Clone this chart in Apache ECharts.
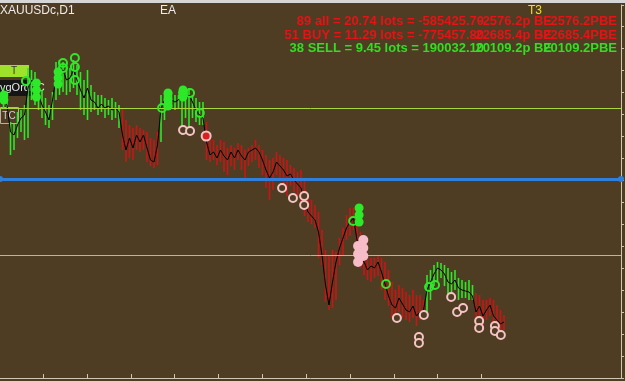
<!DOCTYPE html>
<html><head><meta charset="utf-8">
<script src="https://cdn.jsdelivr.net/npm/echarts@6/dist/echarts.min.js"></script>
<style>html,body{margin:0;padding:0;background:#4e3c23;}#c{width:625px;height:381px;}</style>
</head><body><div id="c"></div>
<script>
// ---- data (bar index starts at 1) ----
const highs = [2006,1999,1972,1970,1982,1984,1989,2026,2024,2022,2014,2004,1996,1989,2002,2032,2034,2032,2029,2026,2034,2029,2022,2014,2024,2009,2002,1999,1999,1996,1994,1996,1992,1989,
 1986,1974,1969,1966,1969,1966,1964,1962,1956,1954,1962,
 1999,2001,2004,2002,1999,1999,2006,2004,2006,1999,1996,1992,1992,
 1972,1956,1954,1949,1954,1952,1946,1949,1946,1951,1949,1944,1946,1949,1954,1949,1944,1939,1934,1936,1942,1939,1936,1934,1929,1926,1922,1924,1916,1899,1894,1889,1882,1864,1844,1839,1844,1842,1856,1866,1879,1886,1886,1872,1862,1846,1839,1836,1836,1839,1836,1832,1824,1812,1804,1809,1806,1802,1799,1804,1799,1799,1794,
 1819,1824,1829,1832,1831,1829,1826,1822,1824,1816,1814,1812,1814,1809,
 1801,1799,1794,1794,1796,1794,1789,1784,1779];
const lows = [1986,1986,1939,1944,1956,1962,1954,1956,1994,1989,1984,1976,1969,1966,1974,1994,1999,2002,1999,2002,2006,1999,1984,1979,1974,1982,1984,1979,1982,1976,1979,1974,1976,1966,
 1944,1932,1936,1934,1944,1942,1944,1932,1928,1926,1929,
 1952,1974,1984,1986,1984,1986,1959,1976,1959,1976,1972,1969,1969,
 1934,1932,1934,1929,1932,1922,1919,1928,1924,1934,1924,1914,1928,1932,1934,1926,1919,1906,1894,1904,1919,1914,1909,1898,1908,1902,1898,1892,1878,1872,1870,1866,1836,1829,1792,1784,1786,1794,1829,1839,1854,1858,1864,1844,1826,1819,1814,1812,1816,1818,1804,1794,1788,1776,1772,1782,1776,1774,1772,1776,1768,1774,1776,
 1782,1794,1808,1812,1816,1808,1794,1798,1804,1794,1796,1796,1794,1794,
 1764,1769,1764,1774,1778,1769,1764,1759,1764];
const closes = [1994,1989,1962,1959,1969,1976,1979,2006,2014,2004,1999,1989,1982,1974,1994,2016,2022,2024,2014,2016,2024,2014,2004,1996,2006,1994,1992,1986,1990,1986,1988,1984,1986,1982,
 1959,1944,1956,1946,1959,1952,1959,1946,1934,1932,1949,
 1986,1994,1996,1994,1992,1994,1999,1994,1999,1992,1984,1979,1976,
 1952,1939,1942,1936,1944,1938,1934,1942,1936,1944,1938,1934,1942,1944,1946,1942,1934,1924,1916,1922,1932,1928,1924,1918,1920,1914,1910,1906,1892,1882,1878,1874,1862,1839,1809,1789,1812,1832,1846,1856,1866,1872,1876,1854,1839,1832,1824,1828,1826,1832,1822,1810,1798,1789,1786,1796,1790,1784,1782,1788,1778,1782,1784,
 1804,1812,1820,1826,1824,1820,1812,1810,1814,1806,1804,1803,1802,1798,
 1782,1788,1778,1784,1789,1778,1774,1770,1772];
const trendRuns = [['G',34],['R',11],['G',13],['R',63],['G',14],['R',9]];

const greenRings = [[7.4,2013],[18,2031],[18,2026],[21.4,2036],[21.4,2027],[21.4,2014],[46.3,1986],[52.3,2001],[54.3,2001],[57.1,1981],[100.9,1873],[110.3,1810],[122.6,1807],[124.3,1809]];
const greenBlobs = [[1.1,1999],[1.1,1994],[10.4,2011],[10.4,2004],[10.4,1997],[16.6,2022],[16.6,2016],[16.6,2010],[48,2001],[48,1994],[48,1988],[52.3,2004],[52.3,1997],[102.6,1886],[102.6,1879],[102.6,1872]];
const pinkRings = [[52.3,1964],[54.3,1963],[80.6,1906],[83.7,1896],[86.9,1898],[86.9,1889],[113.4,1776],[119.7,1757],[119.7,1751],[121.1,1779],[128.9,1797],[130.6,1782],[132.3,1786],[136.9,1773],[136.9,1766],[141.4,1768],[141.4,1763],[143.1,1759]];
const redDots = [[58.9,1958]];
const pinkBlobs = [[102.3,1848],[102.3,1840],[102.3,1832],[103.8,1854],[103.8,1846],[103.8,1838]];

const greenLevel = 1986, blueLevel = 1915, tanLevel = 1839;
const tickBars = [12.3,24.9,37.4,49.7,62.3,74.9,87.4,100,112.6,124.9,137.4];

const headerLeft = ['89 all = 20.74 lots = -585425.70','51 BUY = 11.29 lots = -775457.80','38 SELL = 9.45 lots = 190032.10'];
const headerMid = ['-2576.2p BE','-22685.4p BE','20109.2p BE'];
const headerRight = ['-2576.2PBE','-22685.4PBE','20109.2PBE'];

// ---- build ----
const BG = '#4e3c23', GREEN = '#2ee82a', RED = '#cc1414', PINK = '#f4c4c4', FRAME = '#cfc6b4';
const trend = [];
trendRuns.forEach(([t, n]) => { for (let k = 0; k < n; k++) trend.push(t); });
const bars = highs.map((h, k) => [k + 1, h, lows[k], trend[k] === 'G' ? 1 : 0]);
const closeLine = closes.map((c, k) => [k + 1, c]);
const FONT = '"Liberation Sans", Arial, sans-serif';

const chart = echarts.init(document.getElementById('c'));
const hdrColors = ['#e81216', '#e81216', '#33dd22'];
const hdrY = [21, 35, 48];
const graphics = [
  {type:'rect', shape:{x:0,y:0,width:625,height:3}, style:{fill:'#d6d6d6'}, z:10},
  {type:'text', x:0, y:11, style:{text:'XAUUSDc,D1', fill:'#ececec', font:'12px '+FONT, textVerticalAlign:'middle'}, z:10},
  {type:'text', x:160, y:11, style:{text:'EA', fill:'#ececec', font:'12px '+FONT, textVerticalAlign:'middle'}, z:10},
  {type:'text', x:528, y:11, style:{text:'T3', fill:'#f0e020', font:'12px '+FONT, textVerticalAlign:'middle'}, z:10},
  {type:'rect', shape:{x:0,y:65,width:29,height:12}, style:{fill:'#9ee22c'}, z:0},
  {type:'text', x:14, y:71, style:{text:'T', fill:'#333', font:'10px '+FONT, textAlign:'center', textVerticalAlign:'middle'}, z:0},
  {type:'rect', shape:{x:0,y:80,width:40,height:16}, style:{fill:'#151515'}, z:0},
  {type:'text', x:0, y:88, style:{text:'vgOrdr C', fill:'#e6e6e6', font:'11px '+FONT, textVerticalAlign:'middle'}, z:0},
  {type:'rect', shape:{x:0.5,y:107.5,width:18,height:16}, style:{fill:'none', stroke:'#bdb09c', lineWidth:1}, z:0},
  {type:'text', x:9, y:116, style:{text:'TC', fill:'#d0d0d0', font:'10px '+FONT, textAlign:'center', textVerticalAlign:'middle'}, z:0}
];
for (let k = 0; k < 3; k++) {
  graphics.push({type:'text', x:484, y:hdrY[k], style:{text:headerLeft[k], fill:hdrColors[k], font:'bold 13px '+FONT, textAlign:'right', textVerticalAlign:'middle'}, z:10});
  graphics.push({type:'text', x:552, y:hdrY[k], style:{text:headerMid[k], fill:hdrColors[k], font:'bold 13px '+FONT, textAlign:'right', textVerticalAlign:'middle'}, z:10});
  graphics.push({type:'text', x:617, y:hdrY[k], style:{text:headerRight[k], fill:hdrColors[k], font:'bold 13px '+FONT, textAlign:'right', textVerticalAlign:'middle'}, z:10});
}

const option = {
  backgroundColor: BG,
  animation: false,
  grid: {left: 0, right: 4, top: 5, bottom: 3},
  xAxis: {
    type: 'value', min: 0, max: 621 / 3.5,
    axisLine: {show: true, onZero: false, lineStyle: {color: FRAME, width: 1}},
    axisTick: {show: true, inside: true, length: 4, customValues: tickBars, lineStyle: {color: FRAME}},
    axisLabel: {show: false}, splitLine: {show: false}
  },
  yAxis: {
    type: 'value', position: 'right', min: 1716, max: 2089, interval: 22,
    axisLine: {show: true, onZero: false, lineStyle: {color: FRAME}},
    axisTick: {show: true, inside: false, length: 3, lineStyle: {color: FRAME}},
    axisLabel: {show: false}, splitLine: {show: false}
  },
  graphic: graphics,
  series: [
    {
      type: 'line', data: [], silent: true,
      markLine: {silent: true, symbol: 'none', label: {show: false}, animation: false,
        data: [
          {yAxis: greenLevel, lineStyle: {color: '#a8d83c', width: 1, type: 'solid'}},
          {yAxis: tanLevel, lineStyle: {color: '#cdb08a', width: 1, type: 'solid'}}
        ]}
    },
    {
      type: 'custom', data: bars, z: 3,
      renderItem: (params, api) => {
        const i = api.value(0);
        const hi = api.coord([i, api.value(1)]);
        const lo = api.coord([i, api.value(2)]);
        return {type: 'line', shape: {x1: hi[0], y1: hi[1], x2: lo[0], y2: lo[1]},
          style: {stroke: api.value(3) > 0 ? GREEN : RED, lineWidth: 1.6}};
      }
    },
    {
      type: 'line', data: closeLine, z: 4, symbol: 'none', silent: true,
      lineStyle: {color: '#000', width: 1}
    },
    {
      type: 'line', data: [], silent: true, z: 5,
      markLine: {silent: true, symbol: ['circle', 'circle'], symbolSize: 6, label: {show: false}, animation: false,
        itemStyle: {color: '#2f80dc'},
        data: [{yAxis: blueLevel, lineStyle: {color: '#2f80dc', width: 3, type: 'solid'}}]}
    },
    {type: 'scatter', data: greenBlobs, z: 6, symbol: 'circle', symbolSize: 9, itemStyle: {color: GREEN, opacity: 1}},
    {type: 'scatter', data: greenRings, z: 6, symbol: 'circle', symbolSize: 8, itemStyle: {color: 'rgba(0,0,0,0)', borderColor: GREEN, borderWidth: 2, opacity: 1}},
    {type: 'scatter', data: pinkBlobs, z: 6, symbol: 'circle', symbolSize: 10, itemStyle: {color: '#f6bcc8', opacity: 1}},
    {type: 'scatter', data: pinkRings, z: 6, symbol: 'circle', symbolSize: 8, itemStyle: {color: BG, borderColor: PINK, borderWidth: 2, opacity: 1}},
    {type: 'scatter', data: redDots, z: 6, symbol: 'circle', symbolSize: 9, itemStyle: {color: '#d82020', borderColor: PINK, borderWidth: 2, opacity: 1}}
  ]
};
chart.setOption(option);
</script></body></html>
